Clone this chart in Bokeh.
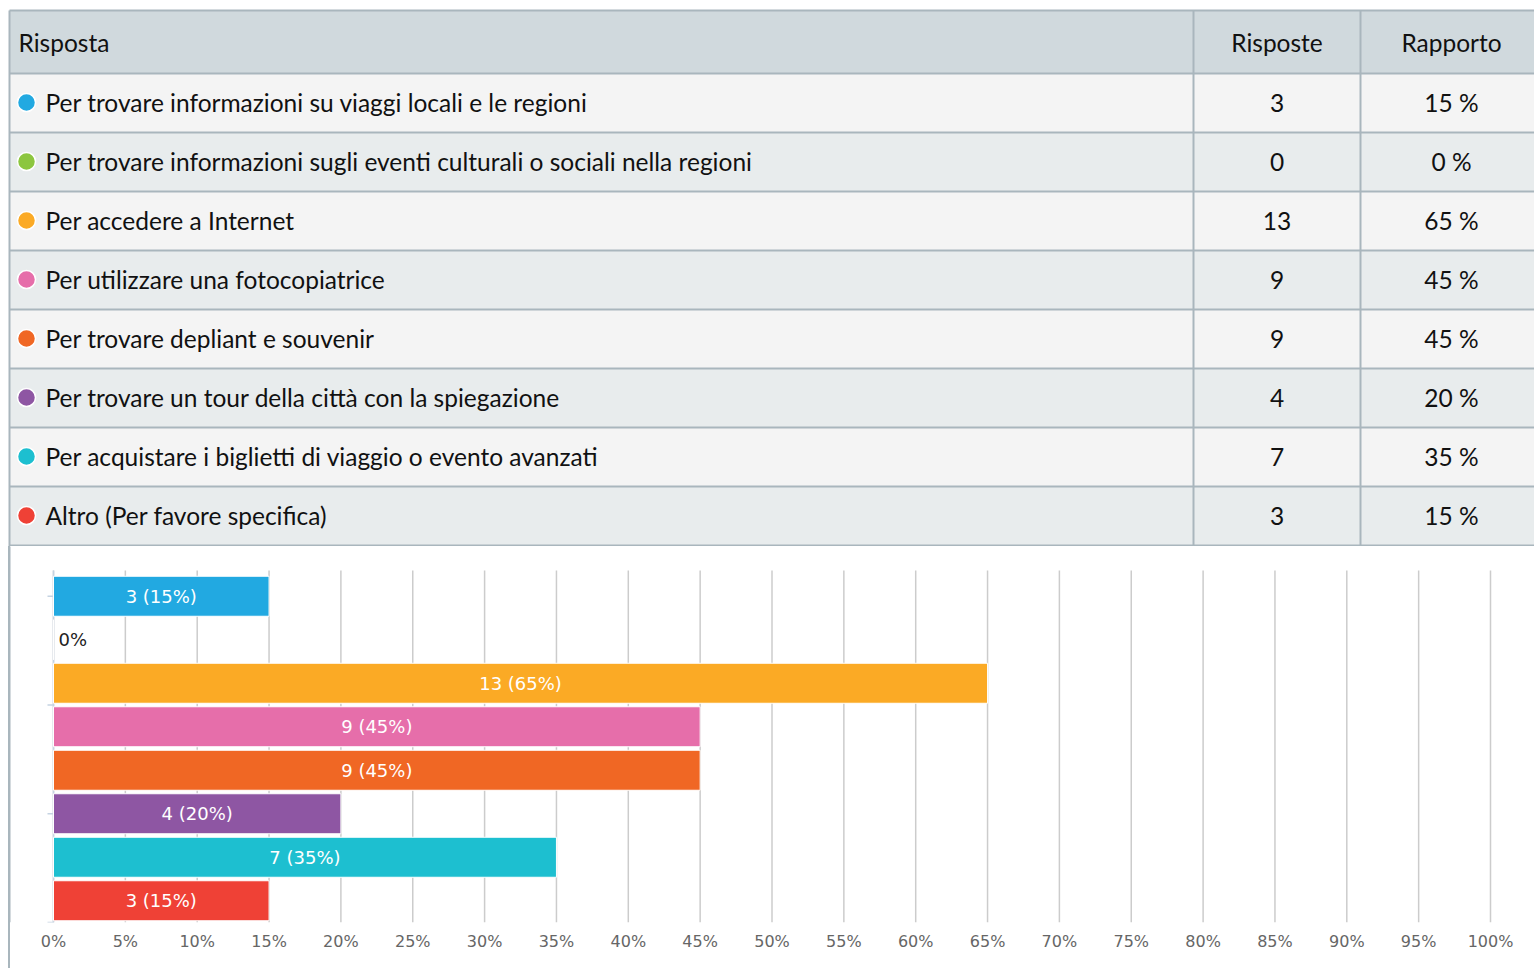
from bokeh.plotting import figure
from bokeh.layouts import column
from bokeh.models import ColumnDataSource, Range1d, FixedTicker, BoxAnnotation
from bokeh.core.properties import value
from bokeh.embed import file_html
from bokeh.resources import INLINE

# ---------------- data ----------------
header = ["Risposta", "Risposte", "Rapporto"]
categories = [
    "Per trovare informazioni su viaggi locali e le regioni",
    "Per trovare informazioni sugli eventi culturali o sociali nella regioni",
    "Per accedere a Internet",
    "Per utilizzare una fotocopiatrice",
    "Per trovare depliant e souvenir",
    "Per trovare un tour della città con la spiegazione",
    "Per acquistare i biglietti di viaggio o evento avanzati",
    "Altro (Per favore specifica)",
]
counts = [3, 0, 13, 9, 9, 4, 7, 3]
percents = [15, 0, 65, 45, 45, 20, 35, 15]
colors = ["#22a9e1", "#8cc63f", "#fbaa25", "#e66eaa", "#f06724", "#8e56a3", "#1dbfd0", "#ef4136"]
x_ticks = list(range(0, 105, 5))

# ---------------- styles ----------------
TABLE_FONT = value("Lato")
TABLE_SIZE = "24.5px"
CHART_FONT = value("DejaVu Sans")
BORDER = "#a9b6bd"
W = 1534
TABLE_H = 546
CHART_H = 422

# ---------------- table figure (pixel coordinates) ----------------
t = figure(width=W, height=TABLE_H, x_range=Range1d(0, W), y_range=Range1d(TABLE_H, 0),
           output_backend="svg", toolbar_location=None,
           min_border=0, min_border_left=0, min_border_right=0, min_border_top=0, min_border_bottom=0)
t.axis.visible = False
t.grid.visible = False
t.outline_line_color = None
t.background_fill_color = "white"
t.border_fill_color = "white"

n = len(categories)
top0, head_h, row_h = 10, 63, 59
left, right = 9, W + 20
col1, col2 = 1193, 1360
row_tops = [top0 + head_h + row_h * i for i in range(n)]
row_fill = ["#f4f4f4" if i % 2 == 0 else "#e8eced" for i in range(n)]

t.quad(left=[left], right=[right], top=[top0], bottom=[top0 + head_h], fill_color="#d0d9dd", line_color=None)
t.quad(left=[left] * n, right=[right] * n, top=row_tops, bottom=[r + row_h for r in row_tops],
       fill_color=row_fill, line_color=None)

hlines = [top0] + [top0 + head_h + row_h * i for i in range(n + 1)]
t.segment(x0=[left] * len(hlines), x1=[right] * len(hlines), y0=hlines, y1=hlines, line_color=BORDER, line_width=2)
bottom_tab = top0 + head_h + row_h * n
t.segment(x0=[col1, col2], x1=[col1, col2], y0=[top0, top0], y1=[bottom_tab, bottom_tab], line_color=BORDER, line_width=2)
t.segment(x0=[left], x1=[left], y0=[top0], y1=[TABLE_H], line_color=BORDER, line_width=2)

# header texts
hy = top0 + head_h / 2
t.text(x=[18], y=[hy], text=[header[0]], text_font=TABLE_FONT, text_font_size=TABLE_SIZE,
       text_color="#111111", text_align="left", text_baseline="middle")
t.text(x=[(col1 + col2) / 2, 1451], y=[hy, hy], text=header[1:], text_font=TABLE_FONT, text_font_size=TABLE_SIZE,
       text_color="#111111", text_align="center", text_baseline="middle")

row_mid = [r + row_h / 2 - 0.5 for r in row_tops]
t.scatter(x=[26] * n, y=row_mid, size=18, fill_color=colors, line_color="white", line_width=1.5)
t.text(x=[45] * n, y=row_mid, text=categories, text_font=TABLE_FONT, text_font_size=TABLE_SIZE,
       text_color="#111111", text_align="left", text_baseline="middle")
t.text(x=[(col1 + col2) / 2] * n, y=row_mid, text=[str(c) for c in counts], text_font=TABLE_FONT,
       text_font_size=TABLE_SIZE, text_color="#111111", text_align="center", text_baseline="middle")
t.text(x=[1451] * n, y=row_mid, text=[f"{p} %" for p in percents], text_font=TABLE_FONT,
       text_font_size=TABLE_SIZE, text_color="#111111", text_align="center", text_baseline="middle")

# ---------------- chart figure ----------------
px0, px100 = 53, 1490
ppu = (px100 - px0) / 100.0
band = 43.5
bottom_margin = 46
frame_h = CHART_H - bottom_margin
y_bottom = n - 0.5
y_top = y_bottom - frame_h / band
x_start = -px0 / ppu
x_end = (W - px0) / ppu

c = figure(width=W, height=CHART_H, x_range=Range1d(x_start, x_end), y_range=Range1d(y_bottom, y_top),
           output_backend="svg", toolbar_location=None,
           min_border=0, min_border_left=0, min_border_right=0, min_border_top=0, min_border_bottom=bottom_margin,
           styles={"background": "linear-gradient(to right, #ffffff 8px, #a9b6bd 8px, #a9b6bd 10px, #ffffff 10px)"})
c.yaxis.visible = False
c.grid.visible = False
c.outline_line_color = None
c.background_fill_color = None
c.border_fill_color = None

xa = c.xaxis[0]
xa.ticker = FixedTicker(ticks=x_ticks)
xa.major_label_overrides = {v: f"{v}%" for v in x_ticks}
xa.axis_line_color = None
xa.major_tick_line_color = None
xa.minor_tick_line_color = None
xa.major_tick_out = 0
xa.major_tick_in = 0
xa.major_label_standoff = 9
xa.major_label_text_font = "DejaVu Sans"
xa.major_label_text_font_size = "16px"
xa.major_label_text_color = "#666666"

# left border of the panel (inside the frame)
c.add_layout(BoxAnnotation(left=8, right=10, top=0, bottom=CHART_H + 10,
                           left_units="screen", right_units="screen", top_units="screen", bottom_units="screen",
                           fill_color=BORDER, fill_alpha=1, line_color=None))

grid_top = y_top + 24 / band
c.segment(x0=x_ticks, x1=x_ticks, y0=[grid_top] * len(x_ticks), y1=[y_bottom] * len(x_ticks),
          line_color="#cccccc", line_width=1.5)

# y axis line and ticks
c.segment(x0=[0], x1=[0], y0=[grid_top], y1=[y_bottom], line_color="#c5d3e2", line_width=1.5)
yt = [0, 2.5, 5, 7.5]
c.segment(x0=[-6 / ppu] * len(yt), x1=[0] * len(yt), y0=yt, y1=yt, line_color="#c5d3e2", line_width=1.5)

idx = list(range(n))
src = ColumnDataSource(dict(y=idx, pct=percents, color=colors))
c.hbar(y="y", left=0, right="pct", height=40 / band, fill_color="color", line_color="white", line_width=1, source=src)

lab_in = ColumnDataSource(dict(
    x=[p / 2 for p in percents if p > 0],
    y=[i for i, p in zip(idx, percents) if p > 0],
    text=[f"{cnt} ({p}%)" for cnt, p in zip(counts, percents) if p > 0],
))
c.text(x="x", y="y", text="text", source=lab_in, text_font=CHART_FONT, text_font_size="18px",
       text_color="white", text_align="center", text_baseline="middle")
lab_zero = ColumnDataSource(dict(
    x=[5 / ppu for p in percents if p == 0],
    y=[i for i, p in zip(idx, percents) if p == 0],
    text=["0%" for p in percents if p == 0],
))
c.text(x="x", y="y", text="text", source=lab_zero, text_font=CHART_FONT, text_font_size="18px",
       text_color="#222222", text_align="left", text_baseline="middle")

layout = column(t, c, spacing=0)
open("out.html", "w").write(file_html(layout, INLINE))
